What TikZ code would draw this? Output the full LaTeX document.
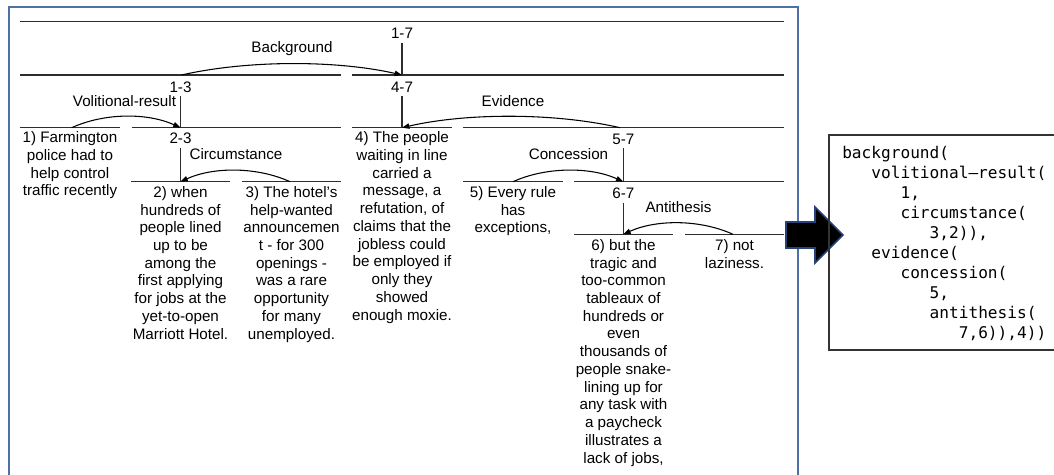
\documentclass[tikz,border=0pt]{standalone}
\usepackage{fontspec}
\setmainfont{Liberation Sans}
\setmonofont{DejaVu Sans Mono}
\usetikzlibrary{arrows.meta}
\definecolor{framec}{RGB}{79,111,168}
\definecolor{blockc}{RGB}{38,66,120}
\definecolor{linec}{RGB}{45,45,45}
\begin{document}
\begin{tikzpicture}[x=0.75pt,y=-0.75pt,
	txt/.style={font=\fontsize{11.4}{13.3}\selectfont},
	leaf/.style={txt,align=center,inner sep=0pt,anchor=north},
	span/.style={txt,inner sep=2.6pt,anchor=base},
	rel/.style={txt,inner sep=0pt,anchor=base},
	seg/.style={linec,line width=0.9pt},
	relarc/.style={line width=0.8pt,-{Triangle[length=5.5pt,width=4pt]}}]
			\useasboundingbox (0,0) rectangle (1054,475);
			\draw [framec,line width=0.8pt] (9,480) -- (9,7) -- (798,7) -- (798,480);
			\draw [seg] (20,21.7) -- (784,21.7);
			\draw [seg] (20,75) -- (341,75) (352,75) -- (784,75);
			\draw [seg] (20,127.7) -- (120,127.7) (132,127.7) -- (341,127.7) (352,127.7) -- (452,127.7) (463,127.7) -- (784,127.7);
			\draw [seg] (131,181.7) -- (230,181.7) (242,181.7) -- (341,181.7) (463,181.7) -- (563,181.7) (574,181.7) -- (784,181.7);
			\draw [seg] (574,234.3) -- (673,234.3) (685,234.3) -- (784,234.3);
			\coordinate (j17) at (402,75);
			\coordinate (j13) at (180.5,127.7);
			\coordinate (j47) at (402,127.7);
			\coordinate (j23) at (180.5,181.7);
			\coordinate (j57) at (623.3,181.7);
			\coordinate (j67) at (623.3,234.3);
			\coordinate (bg) at (181.5,75);
			\coordinate (vr) at (71.7,127.7);
			\coordinate (ev) at (620,127.7);
			\coordinate (ci) at (290,181.7);
			\coordinate (co) at (513,181.7);
			\coordinate (an) at (733,234.3);
			\node [span] (s17) at (402,38.8) {1-7};
			\node [span] (s13) at (180.5,92.6) {1-3};
			\node [span] (s47) at (402,92.6) {4-7};
			\node [span] (s23) at (180.5,143.9) {2-3};
			\node [span] (s57) at (623.3,144.4) {5-7};
			\node [span] (s67) at (623.3,198.8) {6-7};
			\draw [seg] (s17.south) -- (j17);
			\draw [seg] (s13.south) -- (j13);
			\draw [seg] (s47.south) -- (j47);
			\draw [seg] (s23.south) -- (j23);
			\draw [seg] (s57.south) -- (j57);
			\draw [seg] (s67.south) -- (j67);
			\node [rel] (rbg) at (292,52.5) {Background};
			\node [rel] (rvr) at (124.5,106.5) {Volitional-result};
			\node [rel] (rev) at (513,106) {Evidence};
			\node [rel] (rci) at (236,159.5) {Circumstance};
			\node [rel] (rco) at (568.5,159) {Concession};
			\node [rel] (ran) at (678.5,212.7) {Antithesis};
			\draw [relarc] (bg) .. controls +(66,-15) and +(-66,-15) .. (j17);
			\draw [relarc] (vr) .. controls +(33,-15) and +(-33,-15) .. (j13);
			\draw [relarc] (ev) .. controls +(-65,-15) and +(65,-15) .. (j47);
			\draw [relarc] (ci) .. controls +(-33,-15) and +(33,-15) .. (j23);
			\draw [relarc] (co) .. controls +(33,-15) and +(-33,-15) .. (j57);
			\draw [relarc] (an) .. controls +(-33,-15) and +(33,-15) .. (j67);
			\node [leaf] (l1) at (70,131.5) {1) Farmington\\police had to\\help control\\traffic recently};
			\node [leaf] (l2) at (180.5,186) {2) when\\hundreds of\\people lined\\up to be\\among the\\first applying\\for jobs at the\\yet-to-open\\Marriott Hotel.};
			\node [leaf] (l3) at (291.5,186) {3) The hotel's\\help-wanted\\announcemen\\t - for 300\\openings -\\was a rare\\opportunity\\for many\\unemployed.};
			\node [leaf] (l4) at (402,131.5) {4) The people\\waiting in line\\carried a\\message, a\\refutation, of\\claims that the\\jobless could\\be employed if\\only they\\showed\\enough moxie.};
			\node [leaf] (l5) at (513,186) {5) Every rule\\has\\exceptions,};
			\node [leaf] (l6) at (623.5,239) {6) but the\\tragic and\\too-common\\tableaux of\\hundreds or\\even\\thousands of\\people snake-\\lining up for\\any task with\\a paycheck\\illustrates a\\lack of jobs,};
			\node [leaf] (l7) at (734.5,239) {7) not\\laziness.};
			\draw [blockc,line width=1.2pt,fill=black] (786,222) -- (815,222) -- (815,207) -- (843,235) -- (815,263) -- (815,248) -- (786,248) -- cycle;
			\draw [black!80,line width=1pt] (1100,135) -- (829,135) -- (829,350) -- (1100,350);
			\node [font=\ttfamily\fontsize{12.1}{15}\selectfont,align=left,inner sep=0pt,anchor=north west] (code) at (842,145.5) {background(\\
				\phantom{000}volitional–result(\\
				\phantom{000000}1,\\
				\phantom{000000}circumstance(\\
				\phantom{000000000}3,2)),\\
				\phantom{000}evidence(\\
				\phantom{000000}concession(\\
				\phantom{000000000}5,\\
				\phantom{000000000}antithesis(\\
				\phantom{000000000000}7,6)),4))};
		\end{tikzpicture}
\end{document}
